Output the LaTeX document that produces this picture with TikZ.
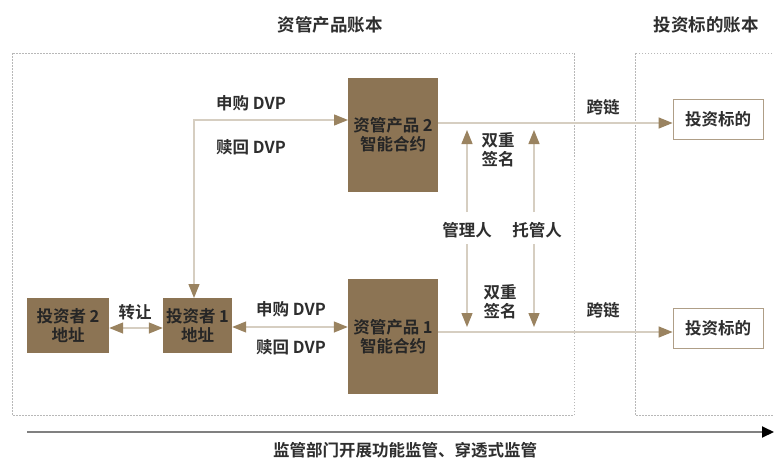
\documentclass[tikz,border=0pt]{standalone}
\usepackage{fontspec}
\setmainfont{Noto Sans CJK SC}[BoldFont={Noto Sans CJK SC Bold}]
\usetikzlibrary{arrows.meta,positioning}
\definecolor{brownbox}{HTML}{8C7454}
\definecolor{arrowline}{HTML}{D6CEC1}
\definecolor{tipcol}{HTML}{9A8360}
\definecolor{txt}{HTML}{2E2E2E}
\definecolor{dashcol}{HTML}{B8B8B8}
\tikzset{
  x=1pt,y=-1pt,
  every node/.style={font=\fontsize{16.5}{19}\selectfont\bfseries, text=txt, inner sep=0pt, align=center},
  bigbox/.style={fill=brownbox, text=black!85},
  tgtbox/.style={draw=brownbox!70, fill=white, line width=0.8pt},
  conn/.style={draw=arrowline, line width=1.3pt},
  tip/.style={-{Triangle[length=14pt,width=11pt,fill=tipcol,color=tipcol]}},
  tipboth/.style={{Triangle[length=14pt,width=11pt,fill=tipcol,color=tipcol]}-{Triangle[length=14pt,width=11pt,fill=tipcol,color=tipcol]}},
  ledger/.style={draw=dashcol, line width=0.9pt, dash pattern=on 1.5pt off 1.5pt},
  titletext/.style={font=\fontsize{17.5}{20}\selectfont\bfseries}
}
\begin{document}
\begin{tikzpicture}
\useasboundingbox (0,0) rectangle (774,461);
\clip (0,0) rectangle (774,461);
\fill[white] (0,0) rectangle (774,461);
% ledgers
\draw[ledger] (12,53) rectangle (574,415);
\draw[ledger] (635,53) rectangle (790,415);
\node[titletext] (t1) at (330,25) {资管产品账本};
\node[titletext] (t2) at (706,25) {投资标的账本};
% boxes
\node[bigbox, minimum width=90pt, minimum height=114pt] (p2) at (393,135) {资管产品 2\\智能合约};
\node[bigbox, minimum width=90pt, minimum height=115pt] (p1) at (393,336.5) {资管产品 1\\智能合约};
\node[bigbox, minimum width=69pt, minimum height=55pt] (i1) at (197.5,325.5) {投资者 1\\地址};
\node[bigbox, minimum width=82pt, minimum height=55pt] (i2) at (68,325.5) {投资者 2\\地址};
\node[tgtbox, minimum width=90pt, minimum height=40pt] (g2) at (718,119) {投资标的};
\node[tgtbox, minimum width=90pt, minimum height=40pt] (g1) at (718,328) {投资标的};
% coordinates
\coordinate (i1top) at (194,298);
\coordinate (p2in) at (348,120);
% top DVP path
\draw[conn, tipboth] (i1top) |- (p2in);
\node (l1) at (251,103) {申购 DVP};
\node (l2) at (251,147) {赎回 DVP};
% middle DVP
\draw[conn, tipboth] (i1.east |- 0,327) -- (p1.west |- 0,327);
\node (l3) at (291,309) {申购 DVP};
\node (l4) at (291,347) {赎回 DVP};
% transfer
\draw[conn, tipboth] (i2.east |- 0,328) -- (i1.west |- 0,328);
\node (l5) at (135,312) {转让};
% cross chain
\draw[conn, tip] (p2.east |- 0,123) -- (g2.west |- 0,123);
\node (l6) at (603,107) {跨链};
\draw[conn, tip] (p1.east |- 0,332) -- (g1.west |- 0,332);
\node (l7) at (603,310) {跨链};
% managers
\node (m) at (467,230) {管理人};
\node (c) at (537,230) {托管人};
\coordinate (mu) at (467,130);
\coordinate (cu) at (534,130);
\coordinate (md) at (467,327);
\coordinate (cd) at (534,327);
\draw[conn, tip] (467,212) -- (mu);
\draw[conn, tip] (534,212) -- (cu);
\draw[conn, tip] (467,244) -- (md);
\draw[conn, tip] (534,244) -- (cd);
\node (s2) at (498,150) {双重\\签名};
\node (s1) at (500,302) {双重\\签名};
% regulation
\coordinate (rs) at (27,432);
\coordinate (re) at (774,432);
\draw[draw=black!50, line width=2pt, -{Triangle[length=12pt,width=11pt,fill=black,color=black]}] (rs) -- (re);
\node (reg) at (405,450) {监管部门开展功能监管、穿透式监管};
\end{tikzpicture}
\end{document}
